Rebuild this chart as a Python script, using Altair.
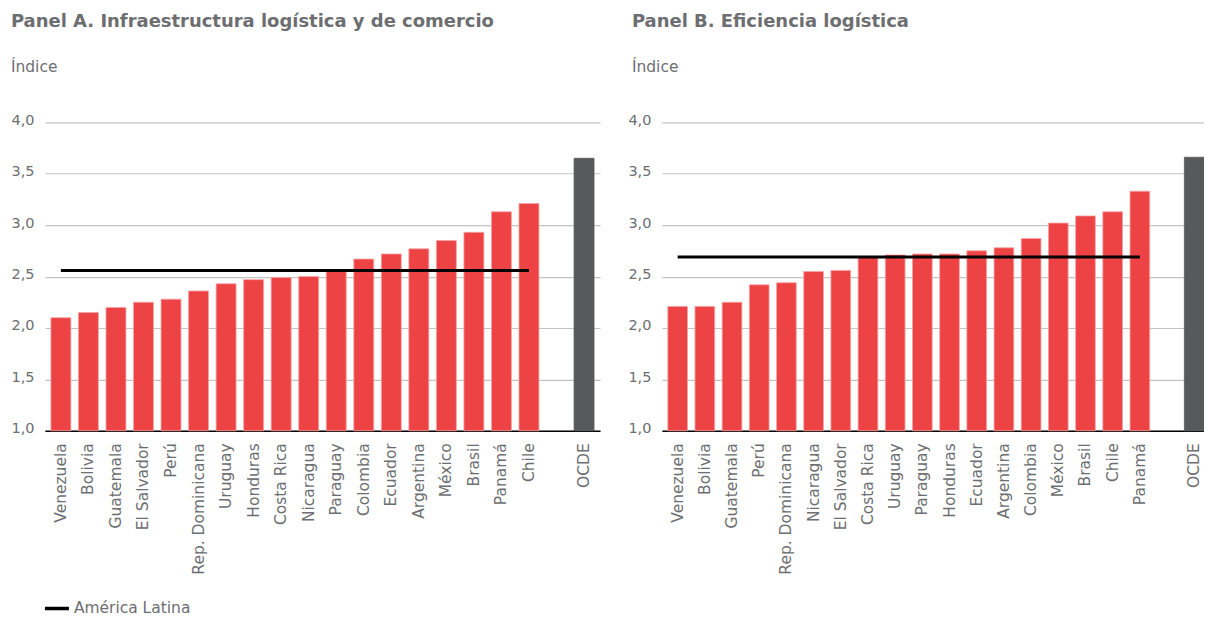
import altair as alt
import pandas as pd

# ---------------- data ----------------
paises_a = ["Venezuela", "Bolivia", "Guatemala", "El Salvador", "Perú", "Rep. Dominicana",
            "Uruguay", "Honduras", "Costa Rica", "Nicaragua", "Paraguay", "Colombia",
            "Ecuador", "Argentina", "México", "Brasil", "Panamá", "Chile"]
valores_a = [2.10, 2.15, 2.20, 2.25, 2.28, 2.36, 2.43, 2.47, 2.49, 2.50, 2.55, 2.67,
             2.72, 2.77, 2.85, 2.93, 3.13, 3.21]
ocde_a = 3.65
al_a = 2.56

paises_b = ["Venezuela", "Bolivia", "Guatemala", "Perú", "Rep. Dominicana", "Nicaragua",
            "El Salvador", "Costa Rica", "Uruguay", "Paraguay", "Honduras", "Ecuador",
            "Argentina", "Colombia", "México", "Brasil", "Chile", "Panamá"]
valores_b = [2.21, 2.21, 2.25, 2.42, 2.44, 2.55, 2.56, 2.69, 2.71, 2.72, 2.72, 2.75,
             2.78, 2.87, 3.02, 3.09, 3.13, 3.33]
ocde_b = 3.66
al_b = 2.69

titulo_a = "Panel A. Infraestructura logística y de comercio"
titulo_b = "Panel B. Eficiencia logística"
subtitulo = "Índice"
serie_linea = "América Latina"
y_ticks = [1.0, 1.5, 2.0, 2.5, 3.0, 3.5, 4.0]

# ---------------- style ----------------
FONT = "DejaVu Sans"
TXT = "#6d6e71"
RED = "#ee4344"
GRAY = "#58595b"
BLANK = " "


def panel(paises, valores, ocde, al, titulo, show_legend, width, dx=0):
    dominio = paises + [BLANK, "OCDE"]
    bars = pd.DataFrame({"pais": paises + ["OCDE"], "valor": valores + [ocde]})
    linea = pd.DataFrame({"pais": paises, "valor": [al] * len(paises),
                          "serie": [serie_linea] * len(paises)})

    xscale = alt.Scale(domain=dominio, paddingInner=0.275, paddingOuter=0.217, round=False)
    xaxis = alt.Axis(title=None, labelAngle=-90, labelPadding=12, ticks=False,
                     domain=True, domainColor="#000000", domainWidth=1.5,
                     grid=False, labelFont=FONT, labelFontSize=15.5, labelColor=TXT,
                     labelOverlap=False)
    yscale = alt.Scale(domain=[1, 4], zero=False, nice=False)
    yaxis = alt.Axis(title=None, values=y_ticks, grid=True, gridColor="#c4c4c4",
                     gridWidth=1.2, domain=False, ticks=False, labelPadding=11,
                     labelFont=FONT, labelFontSize=14.5, labelColor=TXT,
                     labelBaseline="alphabetic", labelOffset=2,
                     labelExpr="replace(format(datum.value, '.1f'), '.', ',')")

    cond = "datum.pais == 'OCDE'"
    bar_layer = alt.Chart(bars).mark_bar(strokeWidth=0.8).encode(
        x=alt.X("pais:N", scale=xscale, axis=xaxis, sort=dominio),
        y=alt.Y("valor:Q", scale=yscale, axis=yaxis),
        y2=alt.datum(1.0),
        color=alt.condition(cond, alt.value(GRAY), alt.value(RED)),
        stroke=alt.condition(cond, alt.value(GRAY), alt.value("#f6a3a3")),
    )

    legend = None
    if show_legend:
        legend = alt.Legend(title=None, orient="none", legendX=-2, legendY=473,
                            symbolType="stroke", symbolSize=576, symbolStrokeWidth=3.5,
                            labelFont=FONT, labelFontSize=15.5, labelColor=TXT,
                            labelOffset=3, padding=0)
    line_layer = alt.Chart(linea).mark_line(strokeWidth=3).encode(
        x=alt.X("pais:N", scale=xscale, sort=dominio),
        y=alt.Y("valor:Q", scale=yscale),
        color=alt.Color("serie:N", scale=alt.Scale(domain=[serie_linea], range=["#000000"]),
                        legend=legend),
    )

    return alt.layer(bar_layer, line_layer).properties(
        width=width, height=309,
        title=alt.TitleParams(text=titulo, subtitle=subtitulo, anchor="start",
                              frame="bounds", font=FONT, fontSize=18, fontWeight="bold",
                              color=TXT, subtitleFont=FONT, subtitleFontSize=15.5,
                              subtitleColor=TXT, subtitlePadding=29, offset=37, dx=dx),
    )


pa = panel(paises_a, valores_a, ocde_a, al_a, titulo_a, True, 556)
pb = panel(paises_b, valores_b, ocde_b, al_b, titulo_b, False, 549, dx=4)

chart = alt.hconcat(pa, pb, spacing=27).properties(
    padding={"left": 2, "top": 4, "right": -6, "bottom": 0}
).configure(background="white", view=alt.ViewConfig(stroke=None))

chart.save("out.html", embed_options={"renderer": "svg", "actions": False})
